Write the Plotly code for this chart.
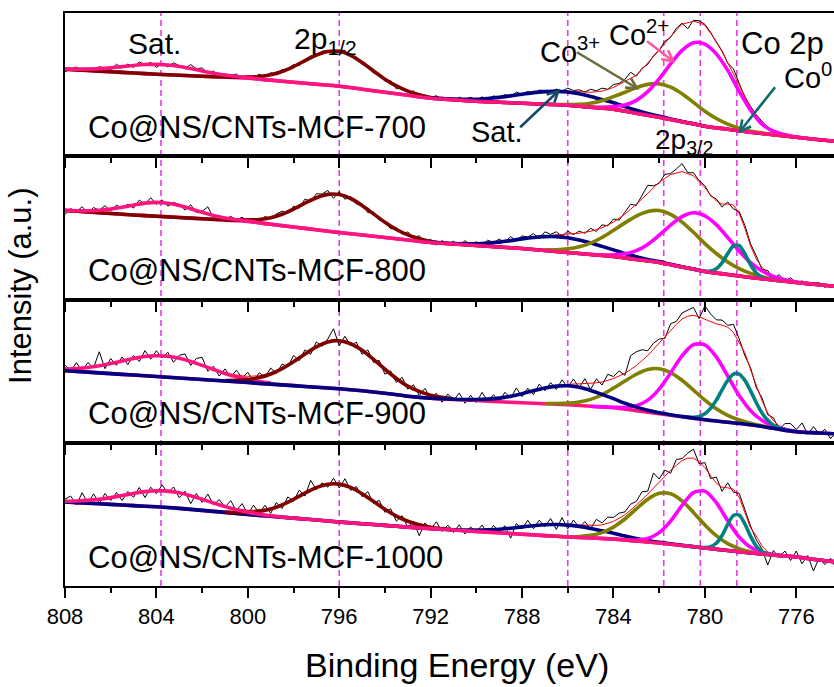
import math
import plotly.graph_objects as go
from plotly.subplots import make_subplots


def grid(start, stop, step):
    n = int(round((start - stop) / step)) + 1
    return [round(start - i * step, 2) for i in range(n)]


# ---------------- energy grids (binding energy, eV) ----------------
BG_E = [808.5] + [float(e) for e in range(808, 773, -1)]
SAT1_E = grid(808.5, 799.0, 0.5)
P12_E = grid(801.0, 791.0, 0.5)
SAT2_E = grid(792.0, 780.0, 0.5)
CO3_E = grid(787.0, 776.5, 0.5)
CO2_E = grid(785.0, 775.5, 0.5)
CO0_E = grid(781.0, 776.5, 0.25)
FINE_E = grid(808.5, 774.25, 0.25)

SAMPLES = ["Co@NS/CNTs-MCF-700", "Co@NS/CNTs-MCF-800",
           "Co@NS/CNTs-MCF-900", "Co@NS/CNTs-MCF-1000"]
X_TICKS = [808, 804, 800, 796, 792, 788, 784, 780, 776]
REF_LINES = [803.8, 796.0, 786.0, 781.8, 780.2, 778.6]

# ---------------- panel 1 : MCF-700 ----------------
P1_BG = [87.6, 87, 85.8, 84.5, 83.3, 82, 81, 80, 79, 78, 76, 74, 72, 70, 67, 64, 61, 58,
         56.5, 55, 54, 53, 52, 51, 49, 47, 43, 39, 34.5, 30, 27, 24, 21.5, 19, 16.5, 14.5]
P1_SAT1 = [87.7, 87.3, 87.1, 87.2, 87.6, 88.4, 89.6, 90.8, 91.7, 91.9, 91.3, 89.8, 87.7,
           85.3, 83.1, 81.2, 79.7, 78.6, 77.3, 76.1]
P1_P12 = [79.2, 79, 79.2, 79.7, 81.4, 84.7, 89.7, 95.6, 101.2, 104.8, 104.9, 100.8, 93.7,
          85.3, 77.1, 70.3, 65.1, 61.5, 58.8, 57.6, 56.6]
P1_SAT2 = [58.2, 57.6, 57.1, 56.9, 57, 57.8, 58.9, 60.4, 62, 63.6, 64.6, 64.9, 64.3, 62.4,
           59.7, 56.6, 53.5, 49.6, 46, 42.8, 40, 37.3, 34.8, 32.4, 30]
P1_CO3 = [52.1, 51.8, 51.8, 51.9, 53, 55.5, 59.6, 64, 68.6, 71.9, 72.4, 69.1, 62.5, 53.9,
          45, 37.8, 32.2, 28.1, 25.1, 23.3, 21.7, 20.3]
P1_CO2 = [49.3, 49, 49.7, 51.2, 55.9, 64.6, 77.4, 92.3, 105.8, 113.5, 112.2, 102.4, 85.9,
          65, 46, 32, 25, 21.5, 19.3, 17.8]
P1_ENV = [87.7, 87.5,
          87.3, 87.2, 87.1, 87.15, 87.2, 87.4, 87.6, 88.0, 88.4, 89.0, 89.6, 90.2,
          90.8, 91.25, 91.7, 91.8, 91.9, 91.6, 91.3, 90.5, 89.8, 88.7, 87.7, 86.5,
          85.3, 84.2, 83.2, 82.3, 81.4, 80.8, 80.2, 80.0, 79.8, 79.9, 80.0, 80.7,
          81.5, 83.1, 84.7, 87.2, 89.7, 92.6, 95.6, 98.4, 101.2, 103.0, 104.8, 104.9,
          104.9, 102.9, 100.8, 97.3, 93.7, 89.5, 85.3, 81.2, 77.1, 73.7, 70.3, 67.7,
          65.1, 63.3, 61.6, 60.3, 59.0, 58.5, 57.9, 57.5, 57.2, 57.0, 56.9, 57.0,
          57.0, 57.4, 57.8, 58.3, 58.9, 59.6, 60.4, 61.2, 62.0, 62.8, 63.6, 64.2,
          64.7, 65.0, 65.2, 65.2, 65.1, 64.8, 64.4, 64.2, 64.0, 64.5, 65.1, 67.0,
          68.8, 71.8, 74.8, 77.9, 81.0, 87.0, 93.0, 99.5, 106.0, 113.0, 120.0, 126.0,
          132.0, 133.5, 135.0, 133.5, 131.0, 123.0, 115.0, 104.5, 94.0, 82.5, 71.0, 60.0,
          49.0, 41.5, 34.0, 29.5, 25.0, 23.2, 21.5, 20.4, 19.3, 18.5, 17.8, 17.2,
          16.6, 16.0, 15.5, 15.0]
P1_EXP = [86.7, 88.5,
          84.3, 87.2, 89.1, 86.2, 88.2, 85.4, 89.6, 88.0, 86.4, 92.0, 88.6, 92.2,
          88.8, 94.3, 91.7, 93.8, 88.9, 92.6, 89.3, 93.5, 90.8, 87.7, 91.7, 87.5,
          88.3, 83.2, 85.2, 80.3, 82.4, 80.8, 82.2, 78.0, 80.8, 78.9, 82.0, 79.7,
          83.5, 82.1, 86.7, 87.2, 91.7, 90.6, 96.6, 100.4, 100.2, 105.0, 105.8, 101.9,
          105.9, 105.9, 99.8, 99.3, 91.7, 90.5, 83.3, 82.2, 75.1, 75.7, 67.3, 68.7,
          64.1, 65.3, 59.6, 61.3, 59.0, 60.5, 56.9, 58.5, 55.2, 59.0, 56.9, 59.0,
          56.0, 59.4, 56.8, 60.3, 58.9, 61.6, 59.4, 64.2, 62.0, 64.8, 62.6, 66.2,
          65.7, 64.0, 67.2, 65.2, 68.1, 65.8, 66.4, 64.2, 67.0, 65.5, 68.1, 67.0,
          71.8, 72.8, 76.8, 84.0, 80.0, 88.0, 92.0, 100.5, 106.0, 115.0, 119.0, 128.0,
          133.0, 127.5, 136.0, 135.5, 132.0, 124.0, 114.0, 105.5, 93.0, 87.5, 73.0, 59.0,
          50.0, 41.5, 35.0, 28.5, 26.0, 22.2, 22.5, 20.4, 20.3, 17.5, 18.8, 16.2,
          17.6, 16.0, 16.5, 14.0]

# ---------------- panel 2 : MCF-800 ----------------
P2_BG = [89.5, 89, 87.5, 86, 84.5, 83.2, 82, 80.7, 79.4, 78, 75.2, 72.5, 69.7, 67, 64.5, 62,
         59.5, 57, 55.5, 54, 52.5, 51, 49, 47, 45, 43, 40, 37, 32.5, 28, 25, 22, 19.5, 17,
         14.8, 12.5]
P2_SAT1 = [89.6, 89.2, 88.8, 88.7, 89.3, 90.4, 92.3, 94.4, 96.4, 97.1, 96.3, 94, 90.8, 87.2,
           84.1, 81.6, 79.8, 78.4, 76.8, 75.2]
P2_P12 = [79.7, 79.4, 79.6, 80, 81.8, 85.3, 90.4, 96.4, 101.8, 105.1, 104.9, 101, 94, 85.6,
          77.2, 70, 64.6, 60.8, 58.1, 56.7, 55.7]
P2_SAT2 = [57.1, 56.5, 56, 55.8, 55.8, 56.4, 57.4, 58.9, 60.6, 62, 62.9, 62.9, 61.8, 59.6,
           56.6, 53.1, 49.6, 46, 42.8, 40.1, 37.9, 35.2, 32.7, 30.4, 28]
P2_CO3 = [49.8, 49.8, 50.6, 52.7, 56.4, 62, 69.2, 76.6, 83.4, 88, 89, 85.1, 77.4, 67.2,
          55.9, 46, 37.6, 30.9, 26.1, 22.8, 20.4, 18.7]
P2_CO2 = [45.2, 44.6, 44.7, 45.7, 48.9, 55.1, 64.3, 74.3, 82.8, 86.7, 83.7, 74.9, 62, 48.4,
          36.8, 28.5, 23, 19.7, 17.5, 15.9]
P2_CO0 = [32.5, 31.4, 30.25, 29.1, 28.2, 28.4, 30.7, 36.7, 45.9, 53.6, 53.8, 45.7, 34.7,
          26.6, 22.4, 20.4, 19.5, 18.9, 18.25]
P2_ENV = [89.6, 89.4,
          89.2, 89.0, 88.8, 88.75, 88.7, 89.0, 89.3, 89.85, 90.4, 91.35, 92.3, 93.35,
          94.4, 95.4, 96.4, 96.75, 97.1, 96.7, 96.3, 95.15, 94.0, 92.4, 90.8, 89.0,
          87.2, 85.7, 84.2, 83.05, 81.9, 81.2, 80.5, 80.25, 80.0, 80.1, 80.2, 81.0,
          81.8, 83.55, 85.3, 87.85, 90.4, 93.4, 96.4, 99.1, 101.8, 103.45, 105.1, 105.2,
          104.9, 103.2, 101.0, 97.5, 94.0, 89.8, 85.6, 81.4, 77.2, 73.6, 70.0, 67.3,
          64.6, 62.7, 60.8, 59.5, 58.2, 57.55, 56.9, 56.55, 56.2, 56.0, 55.8, 55.8,
          55.8, 56.1, 56.4, 56.9, 57.4, 58.15, 58.9, 59.75, 60.6, 61.3, 62.0, 62.85,
          63.7, 64.2, 64.7, 65.05, 65.4, 65.85, 66.3, 67.25, 68.2, 69.95, 71.7, 74.6,
          77.5, 81.4, 85.3, 90.2, 95.1, 100.65, 106.2, 111.7, 117.2, 121.1, 125.0, 126.45,
          127.9, 125.8, 123.7, 117.75, 111.8, 104.6, 98.6, 95.4, 95.5, 94.5, 86.1, 71.2,
          53.6, 40.6, 32.1, 27.0, 23.9, 21.9, 20.1, 18.8, 17.5, 16.7, 15.9, 15.35,
          14.8, 14.2, 13.6, 13.05]
P2_EXP = [87.6, 92.4,
          85.2, 91.0, 87.8, 92.75, 86.7, 92.0, 89.3, 93.85, 88.4, 94.35, 91.3, 95.35,
          91.4, 99.4, 95.4, 101.75, 95.1, 99.7, 93.3, 97.15, 95.0, 89.4, 94.8, 87.0,
          88.2, 92.7, 81.2, 84.05, 79.9, 83.2, 79.5, 82.25, 78.0, 81.1, 78.2, 83.0,
          80.8, 85.55, 88.3, 85.85, 93.4, 91.4, 100.4, 98.1, 105.8, 105.45, 109.1, 101.2,
          107.9, 100.2, 103.0, 95.5, 96.0, 86.8, 87.6, 79.4, 78.2, 70.6, 72.0, 65.3,
          67.6, 61.7, 63.8, 57.5, 60.2, 54.55, 58.9, 55.55, 58.2, 54.0, 58.8, 54.8,
          57.8, 54.1, 59.4, 56.9, 60.4, 57.15, 62.9, 58.75, 63.6, 62.3, 66.0, 60.85,
          67.7, 65.2, 67.7, 63.05, 68.4, 64.85, 68.3, 66.25, 71.2, 67.95, 74.7, 73.6,
          80.5, 79.4, 87.3, 95.2, 94.1, 104.65, 114.2, 113.7, 116.2, 125.1, 126.0, 130.45,
          135.9, 126.8, 126.7, 118.75, 113.8, 103.6, 100.6, 92.4, 97.5, 90.5, 88.1, 74.2,
          55.6, 43.6, 30.1, 29.0, 20.9, 24.9, 18.1, 21.8, 16.5, 18.7, 13.9, 16.35,
          16.8, 12.2, 14.6, 11.05]

# ---------------- panel 3 : MCF-900 ----------------
P3_BG = [72.8, 72, 70.6, 69.1, 67.7, 66.3, 64.8, 63.3, 61.7, 60.2, 58.6, 57.1, 55.5, 54, 52,
         49.5, 46.5, 44.5, 43.3, 42.2, 41, 40, 39, 38, 36.5, 35, 32, 29, 26, 23, 20.5, 18,
         14.5, 11, 9.8, 8.5]
P3_SAT1 = [73.7, 73.6, 74.1, 75.2, 77, 79.2, 81.8, 84.3, 86.2, 87, 86.5, 84.4, 81.3, 77.4,
           73.3, 69.3, 66, 63.4, 61.2, 59.6]
P3_P12 = [62.3, 62.4, 63.2, 65.2, 68.7, 74.2, 81.1, 88.8, 95.9, 100.8, 102, 99, 92.4, 83.3,
          73.5, 64.3, 56.6, 51.3, 47.5, 45.4, 43.9]
P3_SAT2 = [44.5, 44, 43.5, 43.2, 43.2, 43.6, 44.6, 46.5, 49.1, 52.1, 54.8, 56.6, 57, 55.4,
           52.3, 48.4, 44.1, 39.5, 35.6, 32.5, 30, 28, 26.2, 24.6, 23]
P3_CO3 = [39.2, 39.2, 39.6, 40.8, 43.4, 48, 54.6, 61.7, 68.5, 73.2, 74, 70.2, 62.5, 52.7,
          42.6, 34, 27.4, 22.8, 19.6, 17, 14.7, 12.75]
P3_CO2 = [36.5, 35.9, 35.5, 35.2, 37, 42.6, 53.7, 69.8, 86.9, 98.1, 97.9, 85.9, 66.6, 47.2,
          32.1, 22.4, 16.7, 13.4, 11.2, 10.4]
P3_CO0 = [26.1, 25.6, 25.5, 26.4, 29, 34.4, 42.6, 52.8, 62.5, 68.7, 68.7, 62.4, 51.9, 40,
          29.75, 22.4, 17.6, 14.8, 13.15]
P3_ENV = [73.7, 73.65,
          73.6, 73.85, 74.1, 74.65, 75.2, 76.1, 77.0, 78.1, 79.2, 80.5, 81.8, 83.05,
          84.3, 85.25, 86.2, 86.6, 87.0, 86.75, 86.5, 85.45, 84.4, 82.85, 81.3, 79.35,
          77.4, 75.45, 73.5, 71.7, 69.9, 68.7, 67.5, 66.95, 66.4, 66.7, 67.0, 68.35,
          69.7, 72.2, 74.7, 78.0, 81.3, 85.1, 88.9, 92.4, 95.9, 98.35, 100.8, 101.4,
          102.0, 100.5, 99.0, 95.7, 92.4, 87.85, 83.3, 78.4, 73.5, 68.9, 64.3, 60.45,
          56.6, 53.95, 51.3, 49.4, 47.5, 46.5, 45.5, 44.8, 44.1, 43.8, 43.5, 43.35,
          43.2, 43.4, 43.6, 44.1, 44.6, 45.55, 46.5, 47.8, 49.1, 50.6, 52.1, 53.55,
          55.0, 56.15, 57.3, 57.95, 58.6, 58.75, 58.9, 59.05, 59.2, 59.95, 60.7, 62.45,
          64.2, 66.8, 69.4, 73.25, 77.1, 82.2, 87.3, 93.5, 99.7, 106.35, 113.0, 118.35,
          123.7, 126.6, 127.4, 126.15, 123.5, 120.9, 118.9, 117.7, 115.5, 110.3, 100.2, 90.0,
          73.0, 57.0, 42.0, 30.0, 22.0, 17.0, 14.2, 12.2, 11.2, 10.8, 10.4, 10.1,
          9.8, 9.5, 9.15, 8.8]
P3_EXP = [76.7, 67.65,
          77.6, 71.85, 80.1, 71.65, 80.2, 75.1, 91.0, 74.1, 84.2, 77.5, 85.8, 78.05,
          87.3, 81.25, 92.2, 83.6, 92.0, 84.75, 90.5, 80.45, 87.4, 88.85, 77.3, 84.35,
          85.4, 71.45, 76.5, 66.7, 73.9, 65.7, 72.5, 64.95, 70.4, 61.7, 70.0, 65.35,
          74.7, 69.2, 78.7, 76.0, 87.3, 82.1, 92.9, 88.4, 100.9, 96.35, 103.8, 114.0,
          97.0, 106.5, 97.0, 100.7, 88.4, 92.85, 80.3, 82.4, 68.5, 71.9, 60.3, 65.45,
          53.6, 57.95, 47.3, 54.4, 44.5, 49.5, 40.5, 48.8, 42.1, 49.8, 39.5, 47.35,
          40.2, 50.4, 41.6, 48.1, 40.6, 50.55, 44.5, 54.8, 46.1, 54.6, 48.1, 58.55,
          52.0, 60.15, 53.3, 62.95, 55.6, 63.75, 54.9, 64.05, 53.2, 63.95, 57.7, 68.45,
          66.2, 71.8, 67.4, 87.0, 91.0, 93.0, 92.0, 99.5, 103.7, 104.35, 119.0, 121.35,
          129.7, 132.6, 135.4, 124.15, 137.0, 128.9, 122.9, 122.7, 117.5, 118.3, 104.2, 87.0,
          75.0, 55.0, 45.0, 28.0, 25.0, 13.0, 19.2, 19.2, 13.2, 19.8, 8.4, 16.1,
          8.8, 13.5, 4.15, 10.8]

# ---------------- panel 4 : MCF-1000 ----------------
P4_BG = [84.6, 84, 82.8, 81.6, 80.4, 79.2, 77.6, 75.6, 73.6, 71.6, 69.7, 67.9, 66, 64, 62.3,
         60.6, 58.9, 57.4, 56, 54.6, 53.2, 51.8, 50.4, 49, 48, 47, 45, 43, 40.5, 38, 35.5,
         33, 31, 29, 26, 23.5]
P4_SAT1 = [85, 84.8, 85, 85.6, 86.7, 88.4, 90.5, 92.6, 94.4, 95.3, 94.9, 93.2, 90.3, 86.7,
           83, 79.4, 76.3, 73.8, 71.9, 70.3]
P4_P12 = [73.9, 73.5, 73.5, 74.6, 77, 81.1, 86.7, 92.9, 98.4, 101.8, 101.9, 98.6, 92.3,
          84.6, 76.7, 69.9, 64.7, 61.2, 58.8, 57.3, 56.2]
P4_SAT2 = [57.5, 56.9, 56.3, 56, 55.9, 56.1, 56.8, 57.8, 59.1, 60.3, 61.3, 61.5, 60.9, 59.6,
           57.6, 55.2, 52.7, 49.9, 47.5, 45.5, 43.8, 42.2, 40.7, 39.4, 38]
P4_CO3 = [50.4, 49.8, 49.3, 49.5, 50.6, 53.4, 58.9, 67, 77.1, 86.8, 92.8, 92.2, 85.1, 73.6,
          61.1, 50.3, 42.4, 37.4, 34.2, 32.4, 31, 30]
P4_CO2 = [48, 47.5, 47, 46.2, 46, 47.6, 53.4, 64.9, 80.6, 93.4, 94.9, 83.4, 65.2, 49, 38.7,
          33.7, 31.4, 30, 29, 27.5]
P4_CO0 = [40.5, 39.9, 39.25, 38.6, 38.4, 39.3, 42.75, 50.5, 61.6, 70.5, 70.95, 62, 49.6,
          39.8, 34.4, 32.1, 31, 30.5, 30]
P4_ENV = [85.0, 84.9,
          84.8, 84.9, 85.0, 85.3, 85.6, 86.15, 86.7, 87.55, 88.4, 89.45, 90.5, 91.55,
          92.6, 93.5, 94.4, 94.85, 95.3, 95.1, 94.9, 94.05, 93.2, 91.75, 90.3, 88.5,
          86.7, 84.9, 83.1, 81.4, 79.7, 78.45, 77.2, 76.45, 75.7, 75.8, 75.9, 76.75,
          77.6, 79.5, 81.4, 84.1, 86.8, 89.85, 92.9, 95.65, 98.4, 100.1, 101.8, 101.85,
          101.9, 100.25, 98.6, 95.45, 92.3, 88.45, 84.6, 80.65, 76.7, 73.3, 69.9, 67.3,
          64.7, 62.95, 61.2, 60.05, 58.9, 58.2, 57.5, 57.0, 56.5, 56.25, 56.0, 55.95,
          55.9, 56.0, 56.1, 56.45, 56.8, 57.3, 57.8, 58.45, 59.1, 59.7, 60.3, 60.8,
          61.3, 61.45, 61.6, 61.4, 61.2, 60.9, 60.6, 60.4, 60.2, 60.65, 61.1, 62.85,
          64.6, 67.85, 71.1, 75.85, 80.6, 86.25, 91.9, 97.95, 104.0, 109.85, 115.7, 120.55,
          125.4, 127.85, 127.9, 124.2, 118.4, 110.4, 102.85, 98.7, 98.2, 96.8, 88.75, 73.3,
          58.0, 50.0, 40.0, 34.0, 31.4, 30.5, 30.0, 29.5, 29.0, 28.25, 27.5, 26.75,
          26.0, 25.4, 24.75, 24.1]
P4_EXP = [88.0, 72.9,
          86.8, 89.9, 81.0, 93.3, 82.6, 92.15, 82.7, 92.55, 85.4, 93.45, 85.5, 94.55,
          88.6, 98.5, 88.4, 98.85, 92.3, 101.1, 92.9, 99.05, 88.2, 94.75, 82.3, 92.5,
          83.7, 91.9, 81.1, 86.4, 78.7, 85.45, 75.2, 82.45, 71.7, 80.8, 72.9, 80.75,
          72.6, 83.5, 77.4, 89.1, 84.8, 95.85, 89.9, 105.65, 96.4, 103.1, 98.8, 107.85,
          97.9, 107.25, 95.6, 99.45, 89.3, 94.45, 82.6, 85.65, 73.7, 77.3, 64.9, 70.3,
          58.7, 64.95, 50.2, 63.05, 56.9, 64.2, 54.5, 61.0, 53.5, 61.25, 52.0, 58.95,
          53.9, 61.0, 52.1, 60.45, 54.8, 60.3, 47.8, 62.45, 57.1, 65.7, 57.3, 65.8,
          59.3, 67.45, 56.6, 68.4, 57.2, 65.9, 58.6, 64.4, 57.2, 66.65, 63.1, 68.85,
          68.6, 72.85, 74.1, 81.85, 84.6, 94.25, 94.9, 113.0, 107.0, 115.85, 112.7, 126.55,
          127.4, 132.85, 136.9, 122.2, 123.4, 107.4, 108.85, 94.7, 103.2, 93.8, 92.75, 76.3,
          60.0, 46.0, 37.0, 21.0, 35.4, 28.5, 35.0, 25.5, 35.0, 22.25, 30.5, 15.0,
          28.0, 21.4, 27.75, 17.1]

# ---------------- styling ----------------
FONT = "Liberation Sans, Arial, Helvetica, sans-serif"
COL = {"bg": "#ff1480", "sat1": "#ff1480", "p12": "#800000", "sat2": "#000080",
       "co3": "#808000", "co2": "#ff00ff", "co0": "#008080"}
THICK = 3.6
DASH_COL = "#e83be8"
X_RANGE = [808, 774.35]
PLOT_W_PX = 769.0          # width of the plotting area in pixels
PX_PER_EV = PLOT_W_PX / (X_RANGE[0] - X_RANGE[1])


def extend(E, V, bgE, bgV, full):
    xs, ys = [], []
    if full:
        for e, v in zip(bgE, bgV):
            if e > E[0]:
                xs.append(e)
                ys.append(v)
    xs += list(E)
    ys += list(V)
    if full:
        for e, v in zip(bgE, bgV):
            if e < E[-1]:
                xs.append(e)
                ys.append(v)
    return xs, ys


PANELS = [
    dict(bg=P1_BG, env=P1_ENV, exp=P1_EXP,
         comps=[("p12", P12_E, P1_P12, True), ("sat2", SAT2_E, P1_SAT2, False),
                ("co3", CO3_E, P1_CO3, False), ("co2", CO2_E, P1_CO2, False),
                ("sat1", SAT1_E, P1_SAT1, True)]),
    dict(bg=P2_BG, env=P2_ENV, exp=P2_EXP,
         comps=[("p12", P12_E, P2_P12, True), ("sat2", SAT2_E, P2_SAT2, False),
                ("co3", CO3_E, P2_CO3, False), ("co2", CO2_E, P2_CO2, False),
                ("co0", CO0_E, P2_CO0, False), ("sat1", SAT1_E, P2_SAT1, True)]),
    dict(bg=P3_BG, env=P3_ENV, exp=P3_EXP,
         comps=[("sat1", SAT1_E, P3_SAT1, False), ("p12", P12_E, P3_P12, False),
                ("co3", CO3_E, P3_CO3, False), ("co2", CO2_E, P3_CO2, False),
                ("co0", CO0_E, P3_CO0, False), ("sat2", SAT2_E, P3_SAT2, True)]),
    dict(bg=P4_BG, env=P4_ENV, exp=P4_EXP,
         comps=[("sat2", SAT2_E, P4_SAT2, True), ("p12", P12_E, P4_P12, False),
                ("co3", CO3_E, P4_CO3, False), ("co2", CO2_E, P4_CO2, False),
                ("co0", CO0_E, P4_CO0, False), ("sat1", SAT1_E, P4_SAT1, True)]),
]

fig = make_subplots(rows=4, cols=1, shared_xaxes=True, vertical_spacing=0)

for i, p in enumerate(PANELS, start=1):
    assert len(p["env"]) == len(FINE_E) and len(p["exp"]) == len(FINE_E), i
    assert len(p["bg"]) == len(BG_E), i
    fig.add_trace(go.Scatter(x=FINE_E, y=p["exp"], mode="lines",
                             line=dict(color="#000000", width=1)), row=i, col=1)
    fig.add_trace(go.Scatter(x=FINE_E, y=p["env"], mode="lines",
                             line=dict(color="#ff0000", width=1)), row=i, col=1)
    fig.add_trace(go.Scatter(x=BG_E, y=p["bg"], mode="lines",
                             line=dict(color=COL["bg"], width=THICK, shape="spline",
                                       smoothing=0.8)), row=i, col=1)
    for name, E, V, full in p["comps"]:
        assert len(E) == len(V), (i, name)
        xs, ys = extend(E, V, BG_E, p["bg"], full)
        fig.add_trace(go.Scatter(x=xs, y=ys, mode="lines",
                                 line=dict(color=COL[name], width=THICK, shape="spline",
                                           smoothing=0.8)), row=i, col=1)

for i in range(1, 5):
    fig.update_xaxes(row=i, col=1, range=X_RANGE, autorange=False,
                     showline=True, linecolor="black", linewidth=2, mirror=True,
                     ticks="outside", ticklen=10, tickwidth=2, tickcolor="black",
                     tickmode="array", tickvals=X_TICKS, ticktext=[str(t) for t in X_TICKS],
                     minor=dict(ticks="outside", ticklen=5, tickwidth=2, tickcolor="black",
                                tick0=808, dtick=2),
                     showgrid=False, zeroline=False, showticklabels=(i == 4),
                     tickfont=dict(family=FONT, size=22, color="black"))
    fig.update_yaxes(row=i, col=1, range=[0, 143.25], autorange=False,
                     showline=True, linecolor="black", linewidth=2, mirror=False,
                     ticks="", showticklabels=False, showgrid=False, zeroline=False)

for e in REF_LINES:
    fig.add_shape(type="line", xref="x", yref="paper", x0=e, x1=e, y0=0, y1=1,
                  line=dict(color=DASH_COL, width=1.6, dash="6px,4px"), layer="below")


# arrows of the top panel drawn as shapes (shaft + open V head)
def add_arrow(head_e, head_v, dx_px, dy_px, color, head_len=12, spread_deg=28):
    # dx_px, dy_px : offset of the tail from the head in screen pixels (y down)
    tail_e = head_e - dx_px / PX_PER_EV
    tail_v = head_v - dy_px
    fig.add_shape(type="line", xref="x", yref="y", x0=tail_e, y0=tail_v,
                  x1=head_e, y1=head_v, line=dict(color=color, width=2.6), layer="above")
    L = math.hypot(dx_px, dy_px)
    ux, uy = dx_px / L, dy_px / L
    pts = []
    for sgn in (1, -1):
        a = math.radians(spread_deg) * sgn
        wx = (ux * math.cos(a) - uy * math.sin(a)) * head_len
        wy = (ux * math.sin(a) + uy * math.cos(a)) * head_len
        pts.append((head_e - wx / PX_PER_EV, head_v - wy))
    path = "M {:.4f},{:.3f} L {:.4f},{:.3f} L {:.4f},{:.3f}".format(
        pts[0][0], pts[0][1], head_e, head_v, pts[1][0], pts[1][1])
    fig.add_shape(type="path", xref="x", yref="y", path=path,
                  line=dict(color=color, width=2.6), layer="above")


add_arrow(782.97, 68, -60, -36, "#6b6b3c")
add_arrow(781.39, 95, -26, -20, "#ff5aa0")
add_arrow(778.46, 25, 35, -44, "#0b6b6b")
add_arrow(786.42, 65, -38, 36, "#17486e")

ann = []
for i, name in enumerate(SAMPLES, start=1):
    s = "" if i == 1 else str(i)
    ann.append(dict(xref="x" + s, yref="y" + s, x=807.1, y=29, text=name,
                    xanchor="left", yanchor="middle", showarrow=False,
                    font=dict(family=FONT, size=31, color="black")))


def lab(x, y, text, size=30):
    return dict(xref="x", yref="y", x=x, y=y, text=text, showarrow=False,
                xanchor="center", yanchor="middle",
                font=dict(family=FONT, size=size, color="black"))


ann += [
    lab(804.1, 113, "Sat."),
    lab(796.6, 116, "2p<sub>1/2</sub>"),
    lab(785.9, 106, "Co<sup>3+</sup>", 29),
    lab(782.9, 123, "Co<sup>2+</sup>", 29),
    lab(776.6, 113, "Co 2p", 31),
    lab(775.5, 80, "Co<sup>0</sup>", 29),
    lab(789.1, 24, "Sat.", 29),
    lab(780.9, 15, "2p<sub>3/2</sub>", 28),
]

ann.append(dict(xref="paper", yref="paper", x=-0.057, y=0.524, text="Intensity (a.u.)",
                textangle=-90, showarrow=False, xanchor="center", yanchor="middle",
                font=dict(family=FONT, size=31, color="black")))
ann.append(dict(xref="paper", yref="paper", x=0.51, y=-0.138, text="Binding Energy (eV)",
                showarrow=False, xanchor="center", yanchor="middle",
                font=dict(family=FONT, size=34, color="black")))

fig.update_layout(width=834, height=687, margin=dict(l=65, r=0, t=13, b=101),
                  plot_bgcolor="white", paper_bgcolor="white", showlegend=False,
                  annotations=ann)

fig.write_html("out.html")
